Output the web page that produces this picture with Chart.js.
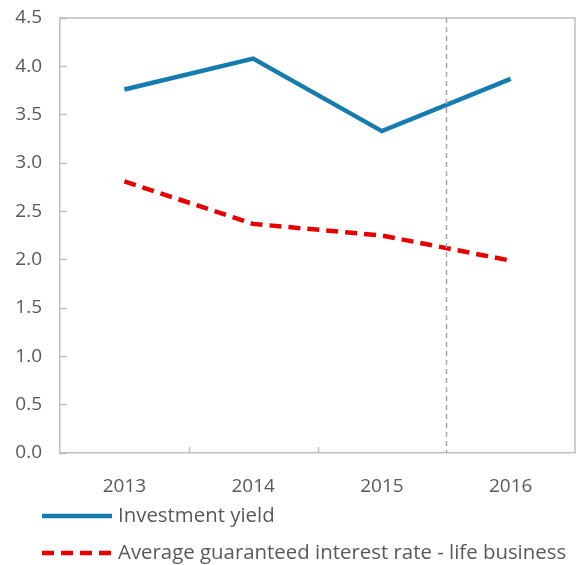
<!DOCTYPE html>
<html>
<head>
<meta charset="utf-8">
<script src="https://cdn.jsdelivr.net/npm/chart.js@4/dist/chart.umd.min.js"></script>
<style>
  html, body { margin: 0; padding: 0; background: #fff; }
  #wrap { width: 576px; height: 565px; }
</style>
</head>
<body>
<div id="wrap"><canvas id="lineChart"></canvas></div>
<script>
var years = ["2013", "2014", "2015", "2016"];
var investmentYield = [3.76, 4.08, 3.33, 3.87];
var guaranteedRate = [2.81, 2.37, 2.25, 1.99];
var yTicks = [0, 0.5, 1.0, 1.5, 2.0, 2.5, 3.0, 3.5, 4.0, 4.5];

var textColor = "#595959";
var axisColor = "#bfbfbf";
var fontFamily = "'Open Sans', 'Noto Sans', sans-serif";

// box lines, inner x ticks, dashed divider between 2015 and 2016, legend
var extras = {
    id: "extras",
    afterDatasetsDraw: function (chart) {
        var ctx = chart.ctx;
        var area = chart.chartArea;
        var x = chart.scales.x;

        ctx.save();
        ctx.strokeStyle = axisColor;
        ctx.lineWidth = 1.5;
        ctx.beginPath();
        ctx.moveTo(area.left, area.top);
        ctx.lineTo(area.right, area.top);
        ctx.lineTo(area.right, area.bottom);
        ctx.stroke();

        // small ticks pointing up between categories
        for (var i = 0; i < years.length - 2; i++) {
            var xt = Math.round((x.getPixelForValue(i) + x.getPixelForValue(i + 1)) / 2) + 0.5;
            ctx.beginPath();
            ctx.moveTo(xt, area.bottom);
            ctx.lineTo(xt, area.bottom - 6);
            ctx.stroke();
        }

        var xd = (x.getPixelForValue(2) + x.getPixelForValue(3)) / 2;
        ctx.strokeStyle = "#a6a6a6";
        ctx.setLineDash([5, 4]);
        ctx.beginPath();
        ctx.moveTo(Math.round(xd) + 0.5, area.top);
        ctx.lineTo(Math.round(xd) + 0.5, area.bottom);
        ctx.stroke();
        ctx.restore();
    },
    afterDraw: function (chart) {
        var ctx = chart.ctx;
        var area = chart.chartArea;
        ctx.save();
        ctx.font = "20.4px " + fontFamily;
        ctx.textBaseline = "middle";
        chart.data.datasets.forEach(function (ds, i) {
            var y = area.bottom + 63 + i * 37;
            ctx.strokeStyle = ds.borderColor;
            ctx.lineWidth = ds.borderWidth;
            ctx.setLineDash(ds.borderDash || []);
            ctx.beginPath();
            ctx.moveTo(42, y);
            ctx.lineTo(112, y);
            ctx.stroke();
            ctx.fillStyle = textColor;
            ctx.fillText(ds.label, 118, y);
        });
        ctx.restore();
    }
};

new Chart(document.getElementById("lineChart"), {
    type: "line",
    data: {
        labels: years,
        datasets: [
            {
                label: "Investment yield",
                data: investmentYield,
                borderColor: "#167cb0",
                borderWidth: 4.5,
                pointRadius: 0,
                tension: 0,
                fill: false
            },
            {
                label: "Average guaranteed interest rate - life business",
                data: guaranteedRate,
                borderColor: "#e60000",
                borderWidth: 4.5,
                borderDash: [12, 7],
                pointRadius: 0,
                tension: 0,
                fill: false
            }
        ]
    },
    options: {
        responsive: true,
        maintainAspectRatio: false,
        animation: false,
        layout: { padding: { top: 18, right: 1, bottom: 62, left: 0 } },
        plugins: {
            legend: { display: false },
            tooltip: { enabled: false }
        },
        scales: {
            x: {
                offset: true,
                grid: {
                    offset: true,
                    drawOnChartArea: false,
                    drawTicks: false
                },
                border: { display: true, color: axisColor, width: 1.5 },
                ticks: {
                    color: textColor,
                    padding: 22,
                    font: { family: fontFamily, size: 19 },
                    maxRotation: 0
                },
                afterFit: function (scale) { scale.height = 50; }
            },
            y: {
                min: 0,
                max: 4.5,
                afterBuildTicks: function (scale) {
                    scale.ticks = yTicks.map(function (v) { return { value: v }; });
                },
                grid: {
                    drawOnChartArea: false,
                    drawTicks: true,
                    tickLength: -7,
                    tickColor: axisColor,
                    tickWidth: 1.5
                },
                border: { display: true, color: axisColor, width: 1.5 },
                ticks: {
                    color: textColor,
                    padding: 25,
                    font: { family: fontFamily, size: 19 },
                    callback: function (v) { return Number(v).toFixed(1); }
                },
                afterFit: function (scale) {
                    scale.width = 60;
                    scale.paddingTop = 0;
                    scale.paddingBottom = 0;
                }
            }
        }
    },
    plugins: [extras]
});
</script>
</body>
</html>
